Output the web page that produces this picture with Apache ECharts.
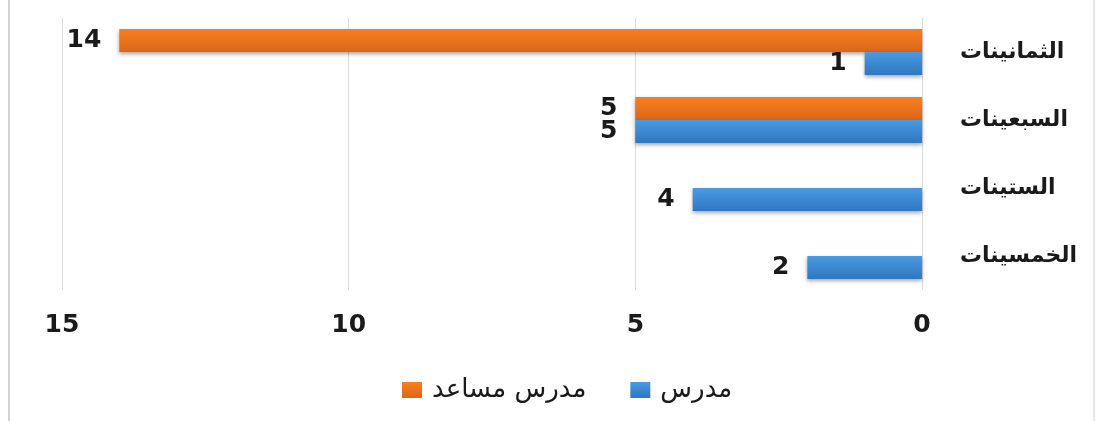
<!DOCTYPE html>
<html lang="ar">
<head>
<meta charset="utf-8">
<title>توزيع أعضاء هيئة التدريس حسب العقد</title>
<script src="https://cdn.jsdelivr.net/npm/echarts@6/dist/echarts.min.js"></script>
<style>
  html, body { margin: 0; padding: 0; background: #ffffff; }
  #chart { width: 1097px; height: 421px; }
</style>
</head>
<body>
<div id="chart"></div>
<script>
// Decades, listed from bottom to top of the category axis
const decades = ['الخمسينات', 'الستينات', 'السبعينات', 'الثمانينات'];
// Counts per decade for each rank
const lecturer = [2, 4, 5, 1];                 // مدرس
const assistantLecturer = [null, null, 5, 14]; // مدرس مساعد
const seriesNames = ['مدرس', 'مدرس مساعد'];
const xTicks = [0, 5, 10, 15];

const FONT = '"DejaVu Sans", Verdana, sans-serif';

function barFill(top, bottom) {
  return new echarts.graphic.LinearGradient(0, 0, 0, 1, [
    { offset: 0, color: top },
    { offset: 1, color: bottom }
  ]);
}

const labelStyle = {
  show: true,
  position: 'left',
  distance: 18,
  color: '#1a1a1a',
  fontFamily: FONT,
  fontWeight: 'bold',
  fontSize: 25,
  formatter: p => (p.value == null ? '' : String(p.value))
};

const chart = echarts.init(document.getElementById('chart'), null, { renderer: 'canvas' });

chart.setOption({
  animation: false,
  textStyle: { fontFamily: FONT },
  grid: { left: 62, right: 175, top: 18, bottom: 131, containLabel: false },
  legend: {
    data: [seriesNames[1], seriesNames[0]],
    left: 397,
    top: 372,
    itemWidth: 20,
    itemHeight: 16,
    itemGap: 44,
    icon: 'rect',
    textStyle: { fontFamily: FONT, fontSize: 26, color: '#1a1a1a', padding: [0, 0, 0, 5] }
  },
  xAxis: {
    type: 'value',
    inverse: true,
    min: xTicks[0],
    max: xTicks[xTicks.length - 1],
    interval: 5,
    axisLine: { show: false },
    axisTick: { show: false },
    splitLine: { show: true, lineStyle: { color: '#dcdcdc', width: 1 } },
    axisLabel: {
      margin: 23,
      color: '#1a1a1a',
      fontFamily: FONT,
      fontWeight: 'bold',
      fontSize: 25
    }
  },
  yAxis: {
    type: 'category',
    position: 'right',
    data: decades,
    axisLine: { show: false },
    axisTick: { show: false },
    axisLabel: {
      margin: 38,
      color: '#1a1a1a',
      fontFamily: FONT,
      fontWeight: 'bold',
      fontSize: 22
    }
  },
  series: [
    {
      name: seriesNames[1],
      type: 'bar',
      data: assistantLecturer,
      barGap: '0%',
      barCategoryGap: '32%',
      itemStyle: {
        color: barFill('#fb7f1e', '#d9661a'),
        shadowColor: 'rgba(0,0,0,0.35)',
        shadowBlur: 4,
        shadowOffsetY: 2
      },
      label: labelStyle
    },
    {
      name: seriesNames[0],
      type: 'bar',
      data: lecturer,
      barGap: '0%',
      barCategoryGap: '32%',
      itemStyle: {
        color: barFill('#4a9be2', '#2f77bf'),
        shadowColor: 'rgba(0,0,0,0.35)',
        shadowBlur: 4,
        shadowOffsetY: 2
      },
      label: labelStyle
    }
  ],
  graphic: [
    { type: 'rect', shape: { x: 8, y: 0, width: 2, height: 421 }, style: { fill: '#d4d4d4' } },
    { type: 'rect', shape: { x: 1093, y: 0, width: 2, height: 421 }, style: { fill: '#e6e6e6' } }
  ]
});
</script>
</body>
</html>
